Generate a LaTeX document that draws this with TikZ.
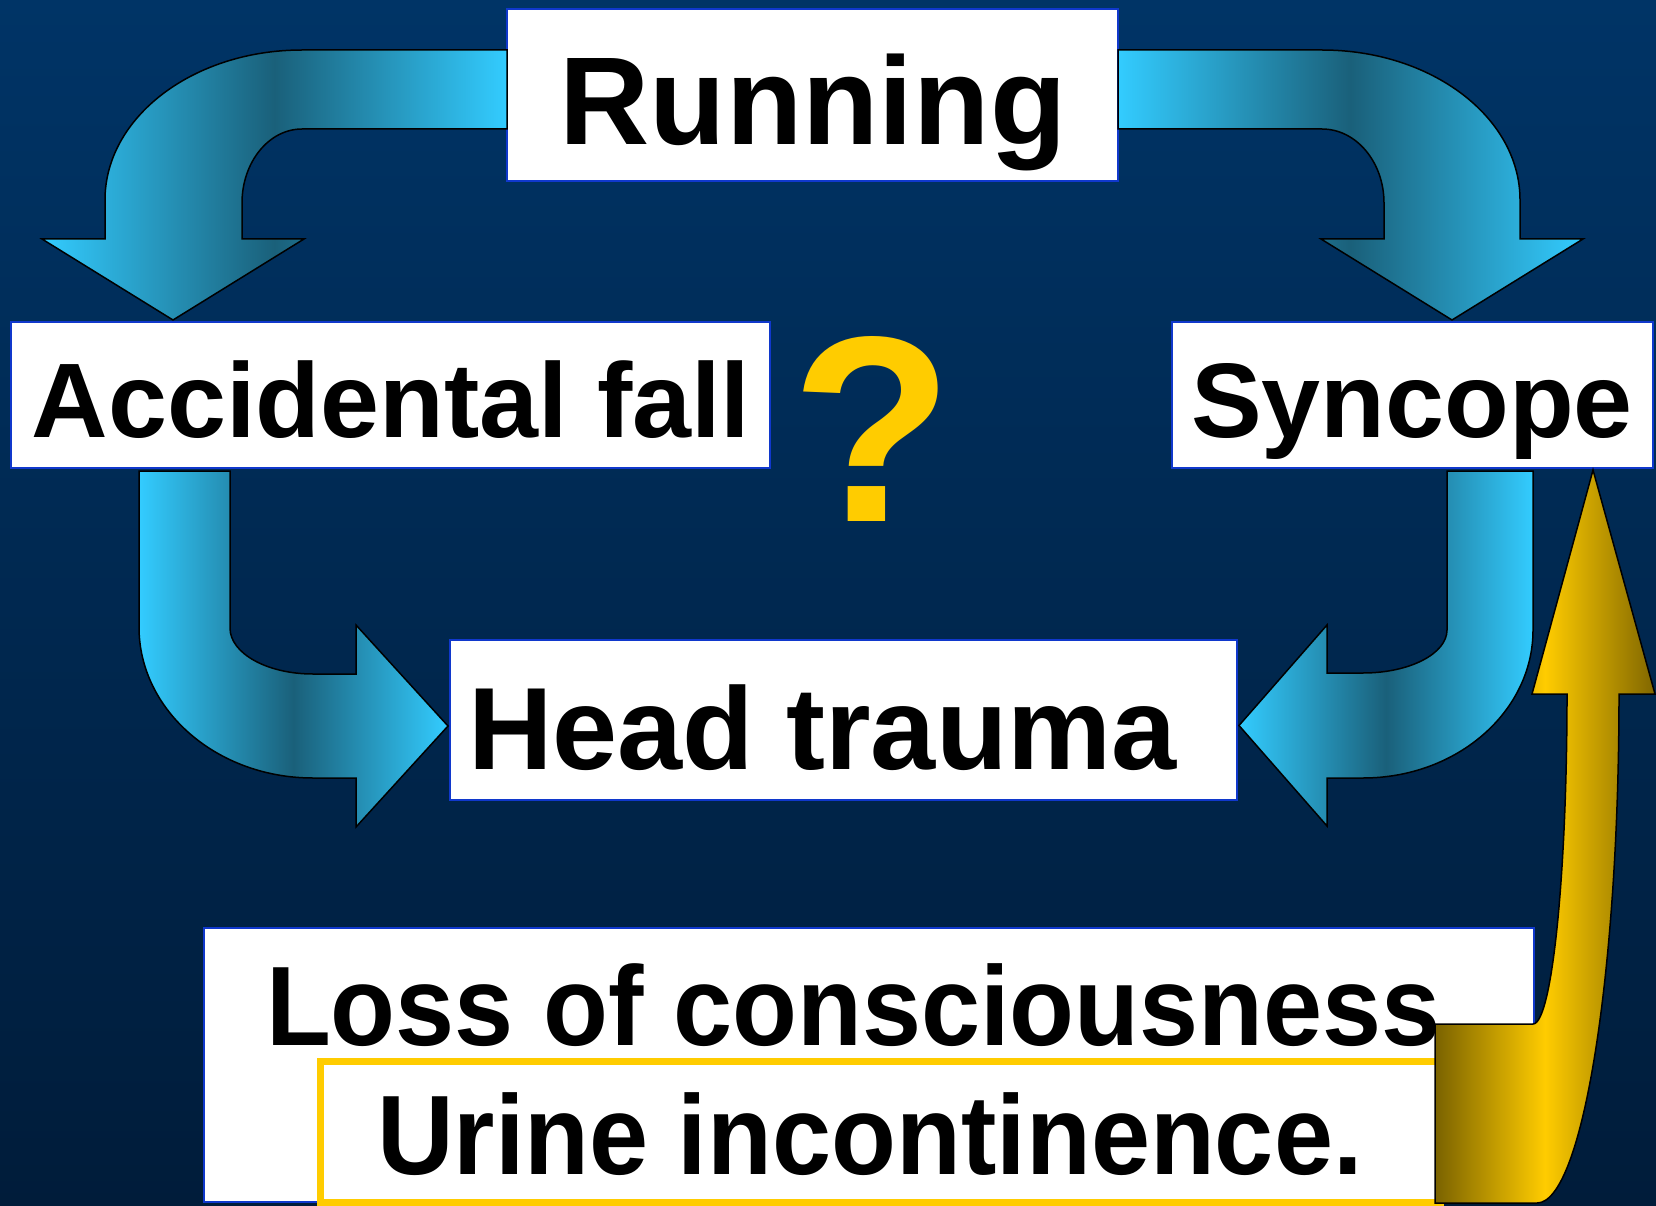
\documentclass[tikz,border=0pt]{standalone}
\usepackage{fontspec}
\setmainfont{Liberation Sans}
\definecolor{bgtop}{RGB}{0,52,102}
\definecolor{bgbot}{RGB}{0,28,58}
\definecolor{cyanA}{RGB}{51,204,255}
\definecolor{darkA}{RGB}{26,96,122}
\definecolor{goldA}{RGB}{255,204,0}
\definecolor{goldD}{RGB}{122,98,0}
\definecolor{goldE}{RGB}{128,102,0}
\definecolor{boxblue}{RGB}{16,56,204}
\tikzset{
  box/.style={draw=boxblue, line width=2pt, fill=white, anchor=north west, inner sep=0pt, outer sep=0pt},
  ubox/.style={box, draw=goldA, line width=7pt},
  bigarrow/.style={draw=black, line width=1.5pt, line join=miter, left color=cyanA, right color=cyanA, middle color=darkA},
  goldarrow/.style={draw=black, line width=1.5pt, line join=miter, left color=goldD, right color=goldE, middle color=goldA},
  lbl/.style={inner sep=0pt, outer sep=0pt, anchor=base, text=black},
  fA/.style={font=\bfseries\fontsize{125}{125}\selectfont},
  fB/.style={font=\bfseries\fontsize{106}{106}\selectfont},
  fC/.style={font=\bfseries\fontsize{117}{117}\selectfont},
  fD/.style={font=\bfseries\fontsize{113}{113}\selectfont},
  fQ/.style={font=\bfseries\fontsize{265}{265}\selectfont},
}
\begin{document}
\begin{tikzpicture}[x=1pt,y=-1pt]
\useasboundingbox (0,0) rectangle (1656,1206);
\shade[top color=bgtop, bottom color=bgbot] (0,0) rectangle (1656,1206);

% boxes
\node[box, minimum width=611, minimum height=172] (run) at (507,9) {};
\node[box, minimum width=759, minimum height=146] (fall) at (11,322) {};
\node[box, minimum width=481, minimum height=146] (sync) at (1172,322) {};
\node[box, minimum width=787, minimum height=160] (head) at (450,640) {};

\node[lbl, fA] (runT) at (813,145) {Running};
\node[lbl, fB] (fallT) at (391,437) {Accidental fall};
\node[lbl, fB] (syncT) at (1412,437) {Syncope};
\node[lbl, fC, anchor=base west] (headT) at (468,769) {Head trauma};
\node[lbl, fQ, text=goldA] (q) at (872,521) {?};

\node[box, minimum width=1330, minimum height=274] (loss) at (204,928) {};
\node[lbl, fD, anchor=base west] (lossT) at (266,1045.5) {\scalebox{0.94}[1]{Loss of consciousness}};
\node[ubox, minimum width=1120, minimum height=141] (urine) at (320.5,1061.5) {};
\node[lbl, fD, anchor=base west] (urineT) at (377,1174) {\scalebox{0.94}[1]{Urine incontinence.}};

% top-left arrow: Running -> Accidental fall
\path[bigarrow] (507,50) -- (302,50)
  .. controls (193.2,50) and (105,117.2) .. (105,200)
  -- (105,239) -- (42,239) -- (173,320) -- (304,239) -- (242,239) -- (242,203)
  .. controls (242,162.1) and (268.9,129) .. (302,129)
  -- (507,129) -- cycle;

% top-right arrow: Running -> Syncope
\path[bigarrow] (1118,50) -- (1322,50)
  .. controls (1431.4,50) and (1520,117.2) .. (1520,200)
  -- (1520,239) -- (1583,239) -- (1452,320) -- (1321,239) -- (1384,239) -- (1384,203)
  .. controls (1384,162.1) and (1356.2,129) .. (1322,129)
  -- (1118,129) -- cycle;

% bottom-left arrow: Accidental fall -> Head trauma
\path[bigarrow] (139,471) -- (139,627)
  .. controls (139,710.4) and (216.9,778) .. (313,778)
  -- (356,778) -- (356,827) -- (448,726) -- (356,625) -- (356,674) -- (313,674)
  .. controls (267.2,674) and (230,653.4) .. (230,628)
  -- (230,471) -- cycle;

% bottom-right arrow: Syncope -> Head trauma
\path[bigarrow] (1533,471) -- (1533,630)
  .. controls (1533,711.7) and (1456.9,778) .. (1363,778)
  -- (1327,778) -- (1327,826) -- (1239,725.5) -- (1327,625) -- (1327,673) -- (1363,673)
  .. controls (1409.4,673) and (1447,653.7) .. (1447,630)
  -- (1447,471) -- cycle;

% gold arrow: Loss of consciousness -> Syncope
\path[goldarrow] (1435,1024) -- (1533,1024)
  .. controls (1551.8,1024) and (1567,876.3) .. (1567,694)
  -- (1532,694) -- (1593,470) -- (1655,694) -- (1619,694)
  .. controls (1619,975.1) and (1582.3,1203) .. (1537,1203)
  -- (1435,1203) -- cycle;
\end{tikzpicture}
\end{document}
